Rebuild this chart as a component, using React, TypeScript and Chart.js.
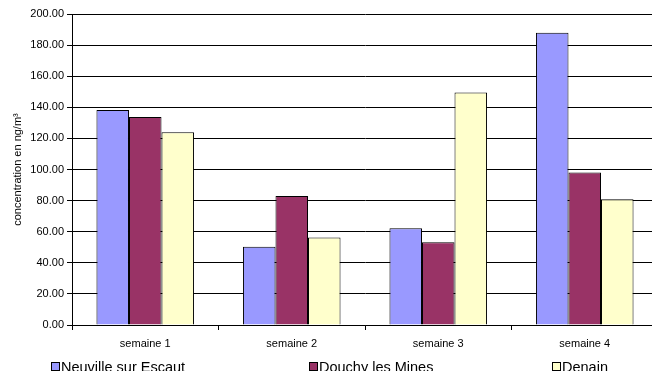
import React, { useEffect, useRef } from "react";
import { Chart, registerables } from "chart.js";

Chart.register(...registerables);

const categories = ["semaine 1", "semaine 2", "semaine 3", "semaine 4"];
const seriesNames = ["Neuville sur Escaut", "Douchy les Mines", "Denain"];
const neuville = [138.2, 50.4, 62.2, 188.0];
const douchy = [133.7, 83.0, 53.2, 98.0];
const denain = [124.0, 56.2, 149.5, 80.9];
const seriesColors = ["#9999FF", "#993366", "#FFFFCC"];
const yTitle = "concentration en ng/m\u00B3";

const FONT = "'Liberation Sans', Arial, sans-serif";

// Legend drawn along the bottom edge, each entry at its own column
const bottomLegend = {
  id: "bottomLegend",
  afterDraw(chart: any) {
    const ctx = chart.ctx;
    const xs = [51, 309, 552];
    const baseY = 372;
    ctx.save();
    ctx.font = `14.5px ${FONT}`;
    ctx.textBaseline = "alphabetic";
    ctx.textAlign = "left";
    chart.data.datasets.forEach((ds: any, i: number) => {
      const x = xs[i];
      ctx.fillStyle = ds.backgroundColor;
      ctx.fillRect(x + 0.5, 362.5, 8, 8);
      ctx.strokeStyle = "#000";
      ctx.lineWidth = 1;
      ctx.strokeRect(x + 0.5, 362.5, 8, 8);
      ctx.fillStyle = "#000";
      ctx.fillText(ds.label, x + 10, baseY);
    });
    ctx.restore();
  },
};

export default function App() {
  const ref = useRef<HTMLCanvasElement>(null);

  useEffect(() => {
    if (!ref.current) return;
    const values = [neuville, douchy, denain];
    const chart = new Chart(ref.current, {
      type: "bar",
      data: {
        labels: categories,
        datasets: seriesNames.map((name, i) => ({
          label: name,
          data: values[i],
          backgroundColor: seriesColors[i],
          borderColor: "#000",
          borderWidth: 1,
          categoryPercentage: 0.666,
          barPercentage: 1,
        })),
      },
      options: {
        animation: false,
        responsive: false,
        devicePixelRatio: 1,
        layout: { padding: { top: 14, right: 2, bottom: 0, left: 0 } },
        plugins: {
          legend: { display: false },
          tooltip: { enabled: false },
        },
        scales: {
          x: {
            afterFit: (s: any) => {
              s.height = 55;
            },
            grid: {
              display: true,
              drawOnChartArea: false,
              drawTicks: true,
              tickLength: 5,
              color: "#000",
              offset: true,
            },
            border: { display: true, color: "#000", width: 1 },
            ticks: {
              color: "#000",
              font: { family: FONT, size: 11 },
              padding: 7,
              maxRotation: 0,
            },
          },
          y: {
            min: 0,
            max: 200,
            afterFit: (s: any) => {
              s.width = 72;
            },
            grid: {
              color: "#000",
              lineWidth: 1,
              drawTicks: true,
              tickLength: 5,
            },
            border: { display: true, color: "#000", width: 1 },
            ticks: {
              stepSize: 20,
              color: "#000",
              font: { family: FONT, size: 11 },
              padding: 3,
              callback: (v: any) => Number(v).toFixed(2),
            },
            title: {
              display: true,
              text: yTitle,
              color: "#000",
              font: { family: FONT, size: 11 },
              padding: { top: 11, bottom: 0 },
            },
          },
        },
      },
      plugins: [bottomLegend],
    });
    return () => chart.destroy();
  }, []);

  return (
    <div style={{ position: "fixed", left: 0, top: 0, width: 660, height: 380, background: "#fff" }}>
      <canvas ref={ref} width={660} height={380} style={{ width: 660, height: 380 }} />
    </div>
  );
}
